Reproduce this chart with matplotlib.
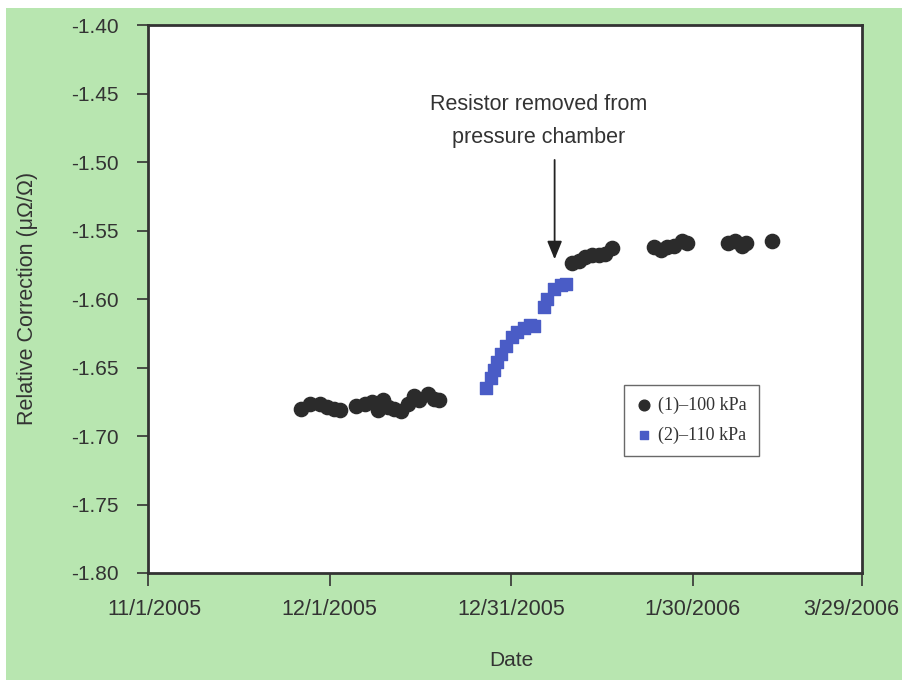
import matplotlib
matplotlib.use("Agg")
import matplotlib.pyplot as plt
from matplotlib.patches import Rectangle
from matplotlib.transforms import ScaledTranslation

plt.rcParams['font.family'] = ['Liberation Sans', 'DejaVu Sans']
plt.rcParams['axes.unicode_minus'] = False

# Days since 11/1/2005
s1_days = [25.3, 26.7, 28.4, 29.5, 30.8, 31.7, 34.4, 35.8, 37.1, 38.0, 38.8, 39.6,
           40.7, 41.8, 42.9, 44.0, 44.8, 46.2, 47.3, 48.1,
           70.1, 71.2, 72.3, 73.4, 74.5, 75.6, 76.7,
           83.6, 84.7, 85.8, 86.9, 88.2, 89.1,
           95.9, 97.0, 98.1, 98.9, 103.1]
s1_vals = [-1.680, -1.677, -1.677, -1.679, -1.680, -1.681, -1.678, -1.677, -1.675, -1.681,
           -1.674, -1.679, -1.680, -1.682, -1.677, -1.671, -1.674, -1.669, -1.673, -1.674,
           -1.574, -1.572, -1.569, -1.568, -1.568, -1.567, -1.563,
           -1.562, -1.564, -1.562, -1.561, -1.558, -1.559,
           -1.559, -1.558, -1.561, -1.559, -1.558]

s2_days = [55.8, 56.7, 57.2, 57.7, 58.3, 59.1, 60.2, 61.0, 62.1, 63.2, 63.8,
           65.4, 66.0, 67.1, 68.2, 69.0]
s2_vals = [-1.665, -1.658, -1.652, -1.646, -1.640, -1.634, -1.628, -1.624, -1.621, -1.619,
           -1.620, -1.606, -1.600, -1.593, -1.590, -1.589]

x_ticks = [0, 30, 60, 90, 118]
x_labels = ['11/1/2005', '12/1/2005', '12/31/2005', '1/30/2006', '3/29/2006']
y_ticks = [-1.80, -1.75, -1.70, -1.65, -1.60, -1.55, -1.50, -1.45, -1.40]

series_names = ['(1)\u2013100 kPa', '(2)\u2013110 kPa']
annotation_text = 'Resistor removed from\npressure chamber'

fig = plt.figure(figsize=(9.02, 6.8), dpi=100)
fig.patch.set_facecolor('white')
fig.patches.append(Rectangle((6/902, 0), 1, 1 - 8/680, transform=fig.transFigure,
                             facecolor='#b8e6b0', edgecolor='none', zorder=-10))

ax = fig.add_axes([148/902, 1 - 573/680, (862 - 148)/902, (573 - 25)/680])
ax.set_facecolor('white')

ax.scatter(s1_days, s1_vals, s=105, marker='o', color='#2b2b2b', label=series_names[0], zorder=3)
ax.scatter(s2_days, s2_vals, s=68, marker='s', color='#4a5cc6', label=series_names[1], zorder=3)

ax.set_xlim(0, 118)
ax.set_ylim(-1.80, -1.40)
ax.set_xticks(x_ticks)
ax.set_xticklabels(x_labels)
ax.set_yticks(y_ticks)
ax.set_yticklabels(['%.2f' % v for v in y_ticks])

txtc = '#333333'
ax.tick_params(axis='y', direction='out', length=8, width=1.2, pad=13, labelsize=15,
               colors='#333333', labelcolor=txtc)
ax.tick_params(axis='x', direction='out', length=9, width=1.2, pad=10, labelsize=15.5,
               colors='#333333', labelcolor=txtc)
for sp in ax.spines.values():
    sp.set_color('#333333')
    sp.set_linewidth(2)

# keep last date label inside the figure
lbls = ax.get_xticklabels()
lbls[-1].set_transform(lbls[-1].get_transform() + ScaledTranslation(-11/100, 0, fig.dpi_scale_trans))
lbls[0].set_transform(lbls[0].get_transform() + ScaledTranslation(6/100, 0, fig.dpi_scale_trans))

fig.text(28/902, 1 - 298/680, 'Relative Correction (\u03bc\u03a9/\u03a9)', rotation=90,
         ha='center', va='center', fontsize=15.5, color=txtc)
fig.text(511/902, 1 - 660/680, 'Date', ha='center', va='center', fontsize=15, color=txtc)

ax.annotate('', xy=(67.2, -1.571), xytext=(67.2, -1.4985),
            arrowprops=dict(arrowstyle='-|>,head_length=1.1,head_width=0.45',
                            color='#222222', lw=1.3, shrinkA=0, shrinkB=0))
ax.text(64.6, -1.4704, annotation_text, ha='center', va='center', fontsize=15.5,
        color=txtc, linespacing=1.75)

leg = ax.legend(loc='upper left', bbox_to_anchor=((624 - 148)/714, 1 - (385 - 25)/548),
                borderaxespad=0, frameon=True, fancybox=False, borderpad=0.65,
                labelspacing=0.7, handletextpad=0.35, handlelength=0.9, markerscale=0.75,
                prop={'family': 'Liberation Serif', 'size': 13})
leg.get_frame().set_edgecolor('#444444')
leg.get_frame().set_linewidth(1.0)
for t in leg.get_texts():
    t.set_color('#333333')

fig.savefig('out.png', dpi=100)
